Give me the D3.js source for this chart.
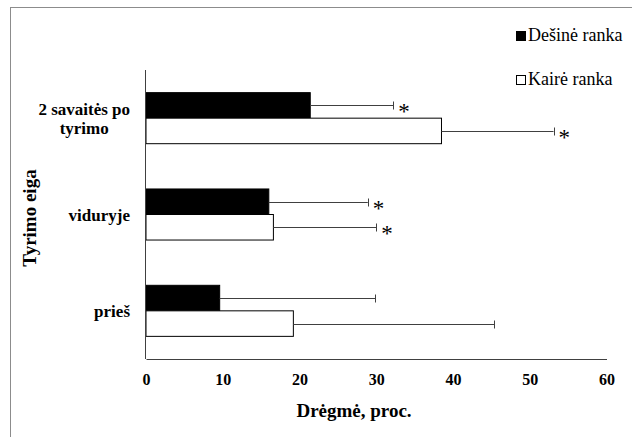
<!DOCTYPE html>
<html><head><meta charset="utf-8">
<script src="https://cdn.jsdelivr.net/npm/d3@7"></script>
<style>
html,body{margin:0;padding:0;background:#fff;}
svg{display:block;}
svg text{font-family:'Liberation Serif','Times New Roman',Tinos,'DejaVu Serif',serif !important;fill:#000;}
</style></head>
<body><svg id="c" width="632" height="437"></svg>
<script>
// Data
const categories = ["prieš", "viduryje", "2 savaitės po tyrimo"];
const categoryLines = [["prieš"], ["viduryje"], ["2 savaitės po", "tyrimo"]];
const seriesNames = ["Dešinė ranka", "Kairė ranka"];
const desineValues = [9.6, 16.0, 21.4];
const desineErrors = [20.3, 12.9, 10.8];
const kaireValues = [19.2, 16.6, 38.5];
const kaireErrors = [26.2, 13.4, 14.6];
const desineSignificant = [false, true, true];
const kaireSignificant = [false, true, true];
const xTicks = [0, 10, 20, 30, 40, 50, 60];
const xTitle = "Drėgmė, proc.";
const yTitle = "Tyrimo eiga";

(function () {
const FONT = "'Liberation Serif', 'Times New Roman', Tinos, 'DejaVu Serif', serif";
const series = [
  {name: seriesNames[0], values: desineValues, errors: desineErrors, sig: desineSignificant, fill: "#000"},
  {name: seriesNames[1], values: kaireValues, errors: kaireErrors, sig: kaireSignificant, fill: "#fff"}
];

const svg = d3.select("#c").attr("font-family", FONT);
// outer frame
svg.append("rect").attr("x", 10.5).attr("y", 7.5).attr("width", 700).attr("height", 500)
  .attr("fill", "none").attr("stroke", "#8c8c8c").attr("stroke-width", 1);

const pLeft = 146, pRight = 606.5, pTop = 70, pBottom = 359;
const x = d3.scaleLinear().domain([0, 60]).range([pLeft, pRight]);
const y = d3.scaleBand().domain(categories).range([pBottom, pTop]).paddingInner(0.47).paddingOuter(0.235);
const yInner = d3.scaleBand().domain(seriesNames).range([0, y.bandwidth()]);

// bars
series.forEach(s => {
  const g = svg.append("g");
  g.selectAll("rect").data(categories).join("rect")
    .attr("x", x(0))
    .attr("y", (c) => y(c) + yInner(s.name))
    .attr("width", (c, i) => x(s.values[i]) - x(0))
    .attr("height", yInner.bandwidth())
    .attr("fill", s.fill).attr("stroke", "#000").attr("stroke-width", 1);
  // error bars
  categories.forEach((c, i) => {
    const cy = Math.round(y(c) + yInner(s.name) + yInner.bandwidth() / 2) + 0.5;
    const x1 = x(s.values[i]), x2 = x(s.values[i] + s.errors[i]);
    g.append("line").attr("x1", x1).attr("x2", x2).attr("y1", cy).attr("y2", cy)
      .attr("stroke", "#404040").attr("stroke-width", 1);
    g.append("line").attr("x1", Math.round(x2) + 0.5).attr("x2", Math.round(x2) + 0.5)
      .attr("y1", cy - 4).attr("y2", cy + 4).attr("stroke", "#404040").attr("stroke-width", 1);
    if (s.sig[i]) {
      g.append("text").attr("x", x2 + 5).attr("y", cy + 13)
        .attr("font-size", 23).text("*");
    }
  });
});

// axes
const xAxis = d3.axisBottom(x).tickValues(xTicks).tickSize(0).tickPadding(15);
const gx = svg.append("g").attr("transform", `translate(0,${pBottom})`).call(xAxis);
gx.attr("font-family", FONT);
gx.select(".domain").attr("stroke", "#404040");
gx.selectAll("text").attr("font-size", 16).attr("font-weight", "bold").attr("fill", "#000");

svg.append("line").attr("x1", pLeft - 0.5).attr("x2", pLeft - 0.5).attr("y1", pTop).attr("y2", pBottom)
  .attr("stroke", "#404040");

// category labels
categories.forEach((c, i) => {
  const lines = categoryLines[i];
  const cy = y(c) + y.bandwidth() / 2;
  const g = svg.append("g");
  const texts = lines.map((l, j) => g.append("text")
    .attr("font-size", 17).attr("font-weight", "bold")
    .attr("y", cy + 6 + (j - (lines.length - 1) / 2) * 19).text(l));
  const widths = texts.map(t => t.node().getComputedTextLength());
  const w = Math.max(...widths);
  const rightEdge = 130;
  texts.forEach(t => t.attr("x", rightEdge - w / 2).attr("text-anchor", "middle"));
});

// titles
svg.append("text").attr("x", 354).attr("y", 417).attr("text-anchor", "middle")
  .attr("font-size", 19).attr("font-weight", "bold").text(xTitle);
svg.append("text").attr("transform", "translate(36,218) rotate(-90)").attr("text-anchor", "middle")
  .attr("font-size", 19).attr("font-weight", "bold").text(yTitle);

// legend
const legendY = [41, 85];
series.forEach((s, i) => {
  svg.append("rect").attr("x", 516.5).attr("y", legendY[i] - 9.5).attr("width", 9).attr("height", 9)
    .attr("fill", s.fill).attr("stroke", "#000").attr("stroke-width", 1);
  svg.append("text").attr("x", 528).attr("y", legendY[i]).attr("font-size", 18).text(s.name);
});
})();
</script></body></html>
